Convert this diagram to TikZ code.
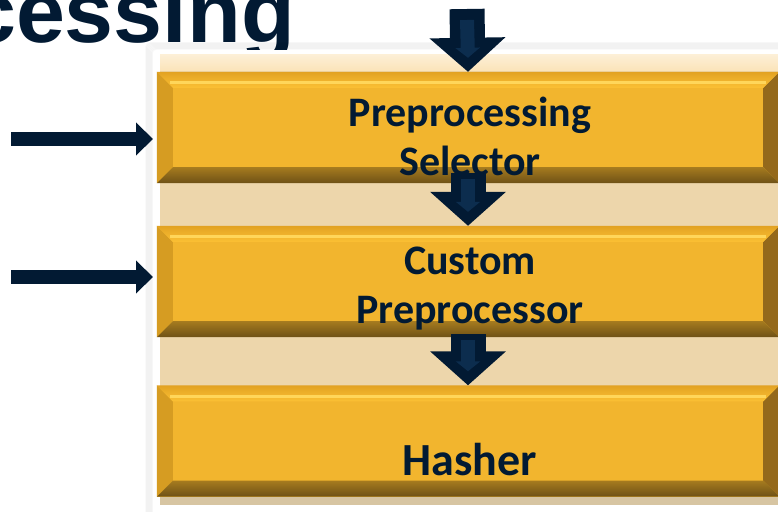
\documentclass[tikz,border=0pt]{standalone}
\usepackage{fontspec}
\setmainfont{Carlito}
\newfontfamily\titlefont{Liberation Sans}
\usetikzlibrary{calc}
\usetikzlibrary{arrows.meta}
\usetikzlibrary{positioning}
\usepackage{xcolor}

\definecolor{navy}{HTML}{021A33}
\definecolor{navyhi}{HTML}{0C2D4E}
\definecolor{gold}{HTML}{F2B52E}
\definecolor{goldedge}{HTML}{E2A222}
\definecolor{goldtop}{HTML}{FBC034}
\definecolor{goldhi}{HTML}{FFD65A}
\definecolor{goldleft}{HTML}{D69C22}
\definecolor{goldright}{HTML}{94691B}
\definecolor{goldbot}{HTML}{6E5116}
\definecolor{goldbotlt}{HTML}{A67B1F}
\definecolor{tan}{HTML}{EDD6AB}
\definecolor{tanlight}{HTML}{FBE4BA}

% bevelled edges of a stage box
\newcommand{\bevelbox}[1]{%
  \fill[goldleft] (#1.north west) -- ($(#1.north west)+(16,16)$) -- ($(#1.south west)+(16,-16)$) -- (#1.south west) -- cycle;
  \fill[goldright] (#1.north east) -- ($(#1.north east)+(-16,16)$) -- ($(#1.south east)+(-16,-16)$) -- (#1.south east) -- cycle;
  \shade[top color=goldedge, bottom color=goldtop] (#1.north west) -- (#1.north east) -- ($(#1.north east)+(-16,16)$) -- ($(#1.north west)+(16,16)$) -- cycle;
  \draw[goldhi, line width=3pt] ($(#1.north west)+(13,11)$) -- ($(#1.north east)+(-13,11)$);
  \shade[top color=goldbotlt, bottom color=goldbot] (#1.south west) -- (#1.south east) -- ($(#1.south east)+(-16,-16)$) -- ($(#1.south west)+(16,-16)$) -- cycle;
}

\begin{document}
\begin{tikzpicture}[x=1pt, y=-1pt,
  stage/.style={rectangle, fill=gold, inner sep=0pt, minimum width=622pt, minimum height=111pt},
  stagetext/.style={text=navy, align=center, font=\bfseries\fontsize{42}{49}\selectfont},
  flow/.style={draw=navy, line width=35pt, -{Triangle[length=34pt,width=74pt]}},
  flowhi/.style={draw=navyhi, line width=14pt, -{Triangle[length=10pt,width=24pt]}},
  feed/.style={draw=navy, line width=14pt, -{Triangle[length=17pt,width=32pt]}}]
\useasboundingbox (0,0) rectangle (778,511);
\clip (0,0) rectangle (778,511);

% heading
\node[anchor=base east, inner sep=0pt, text=navy, font=\titlefont\bfseries\fontsize{88}{88}\selectfont] (title) at (295,43) {cessing};

% card with soft shadow
\node[anchor=north west, fill=white, rounded corners=4pt, minimum width=660pt, minimum height=480pt] (card) at (153,50) {};
\foreach \d in {1,...,7}
  \draw[black, opacity=0.03, line width=1.5pt, rounded corners=4pt] ($(card.north west)+(-\d,-\d)$) rectangle ($(card.south east)+(\d,\d)$);
\fill[tan] (160,55) rectangle (779,505);
\shade[top color=tanlight!60!white, bottom color=tanlight] (160,55) rectangle (779,70);
\fill[tan!80!gray] (160,497) rectangle (779,505);

% stages
\node[stage] (sel) at (468,127.5) {};
\node[stage] (pre) at (468,281.5) {};
\node[stage] (hash) at (468,441) {};
\bevelbox{sel}
\bevelbox{pre}
\bevelbox{hash}

% arrows
\coordinate (top) at (467,9);
\draw[flow] (top) -- (sel.north);
\draw[flowhi] ($(top)+(0,11)$) -- ($(sel.north)+(0,-14)$);
\draw[flow] ($(sel.south)+(0,-10)$) -- (pre.north);
\draw[flowhi] ($(sel.south)+(0,-4)$) -- ($(pre.north)+(0,-14)$);
\draw[flow] ($(pre.south)+(0,-3)$) -- (hash.north);
\draw[flowhi] ($(pre.south)+(0,3)$) -- ($(hash.north)+(0,-14)$);

\coordinate (inA) at (11,139);
\coordinate (inB) at (11,277);
\draw[feed] (inA) -- (inA -| card.west);
\draw[feed] (inB) -- (inB -| card.west);

% labels
\node[stagetext] (selT) at (470,136) {Preprocessing\\Selector};
\node[stagetext] (preT) at (470,289) {Custom\\Preprocessor};
\node[stagetext, font=\bfseries\fontsize{46}{52}\selectfont] (hashT) at (470,460) {Hasher};
\end{tikzpicture}
\end{document}
